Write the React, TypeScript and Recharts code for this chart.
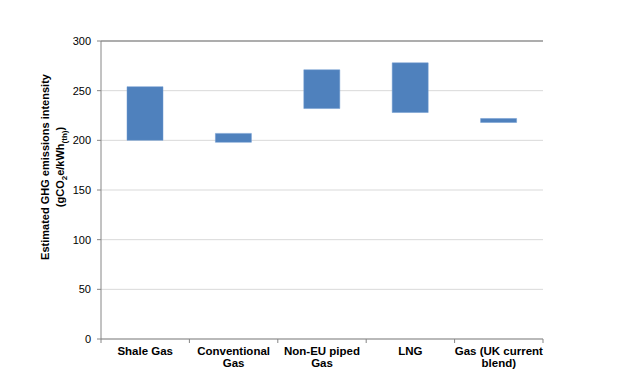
import { BarChart, Bar, XAxis, YAxis, CartesianGrid, ReferenceLine } from "recharts";

const categories = ["Shale Gas", "Conventional Gas", "Non-EU piped Gas", "LNG", "Gas (UK current blend)"];
const tickLabels = [["Shale Gas"], ["Conventional", "Gas"], ["Non-EU piped", "Gas"], ["LNG"], ["Gas (UK current", "blend)"]];
const lowValues = [200, 198, 232, 228, 218];
const highValues = [254, 207, 271, 278, 222];
const yTicks = [0, 50, 100, 150, 200, 250, 300];

const data = categories.map((name, i) => ({
  name,
  range: [lowValues[i], highValues[i]],
}));

const FONT = "'Liberation Sans', Arial, sans-serif";
const AXIS = "#868686";

function CategoryTick(props: any) {
  const { x, y, payload, index } = props;
  const lines = tickLabels[index] ?? [payload.value];
  const half = payload.offset ?? 44;
  const top = y - 6;
  return (
    <g>
      <line x1={x - half} x2={x - half} y1={top} y2={top + 4} stroke={AXIS} />
      {index === categories.length - 1 && (
        <line x1={x + half} x2={x + half} y1={top} y2={top + 4} stroke={AXIS} />
      )}
      <text x={x} y={y + 10} textAnchor="middle" fontFamily={FONT} fontSize={11.5} fontWeight="bold" fill="#000">
        {lines.map((l: string, i: number) => (
          <tspan key={i} x={x} dy={i === 0 ? 0 : 12}>
            {l}
          </tspan>
        ))}
      </text>
    </g>
  );
}

function YLabel() {
  const cy = 167;
  return (
    <g fontFamily={FONT} fontSize={11} fontWeight="bold" fill="#000">
      <text x={49} y={cy} textAnchor="middle" transform={`rotate(-90 49 ${cy})`}>
        Estimated GHG emissions intensity
      </text>
      <text x={64} y={cy} textAnchor="middle" transform={`rotate(-90 64 ${cy})`}>
        <tspan>(gCO</tspan>
        <tspan fontSize={8} dy={3}>2</tspan>
        <tspan dy={-3}>e/kWh</tspan>
        <tspan fontSize={8} dy={3}>(th)</tspan>
        <tspan dy={-3}>)</tspan>
      </text>
    </g>
  );
}

export default function App() {
  return (
    <div style={{ position: "absolute", left: 0, top: 0, background: "#fff" }}>
      <BarChart
        width={623}
        height={373}
        data={data}
        margin={{ top: 41, right: 80, bottom: 4, left: 30 }}
        barSize={36}
      >
        <CartesianGrid vertical={false} stroke="#d9d9d9" />
        <XAxis
          dataKey="name"
          height={30}
          stroke={AXIS}
          tickLine={false}
          tickSize={4}
          tickMargin={2}
          interval={0}
          tick={<CategoryTick />}
        />
        <YAxis
          domain={[0, 300]}
          ticks={yTicks}
          width={71}
          stroke={AXIS}
          tickSize={4}
          tickMargin={6}
          tick={{ fill: "#000", fontSize: 11, fontFamily: FONT }}
          label={{ content: () => <YLabel /> }}
        />
        <YAxis
          yAxisId="right"
          orientation="right"
          width={0}
          stroke={AXIS}
          tick={false}
          tickLine={false}
          domain={[0, 300]}
        />
        <ReferenceLine y={300} stroke="#6f6f6f" />
        <Bar dataKey="range" fill="#4f81bd" stroke="#6f9bd1" strokeWidth={0.5} isAnimationActive={false} />
      </BarChart>
    </div>
  );
}
